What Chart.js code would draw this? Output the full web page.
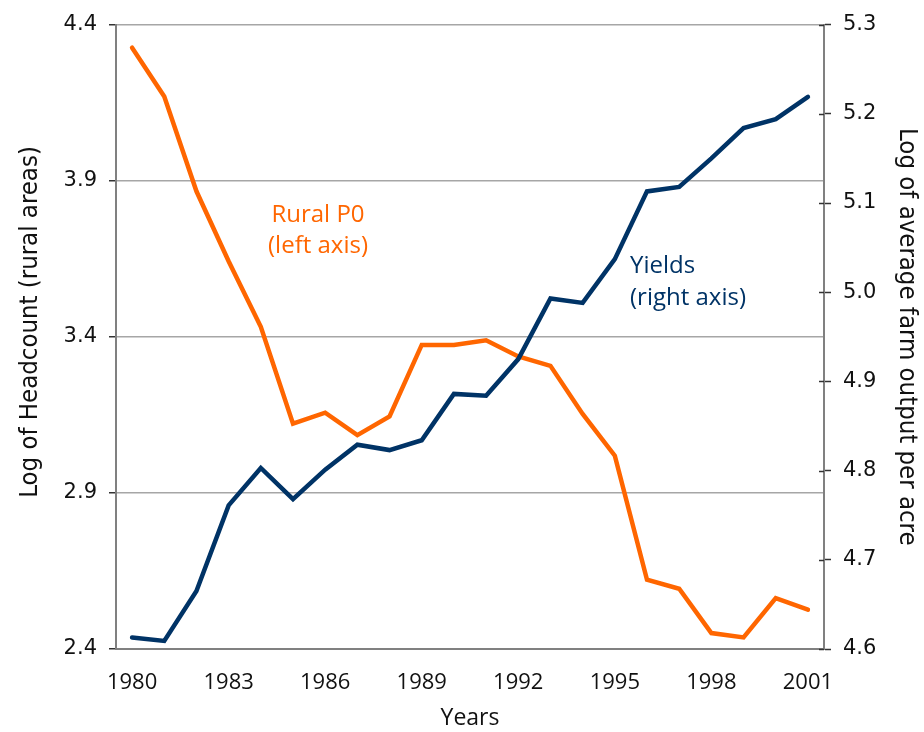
<!DOCTYPE html>
<html>
<head>
<meta charset="utf-8">
<script src="https://cdn.jsdelivr.net/npm/chart.js@4/dist/chart.umd.min.js"></script>
<style>
  html, body { margin: 0; padding: 0; background: #ffffff; }
  #wrap { width: 924px; height: 732px; position: relative; }
</style>
</head>
<body>
<div id="wrap"><canvas id="c" width="924" height="732"></canvas></div>
<script>
// ---- data ----
const years = [1980, 1981, 1982, 1983, 1984, 1985, 1986, 1987, 1988, 1989, 1990,
               1991, 1992, 1993, 1994, 1995, 1996, 1997, 1998, 1999, 2000, 2001];
const ruralP0 = [4.326, 4.170, 3.866, 3.642, 3.432, 3.122, 3.157, 3.085, 3.145, 3.374, 3.374,
                 3.389, 3.337, 3.307, 3.153, 3.019, 2.622, 2.593, 2.451, 2.437, 2.563, 2.526];
const yields = [4.613, 4.609, 4.665, 4.761, 4.803, 4.768, 4.801, 4.829, 4.823, 4.834, 4.886,
                4.884, 4.925, 4.993, 4.988, 5.037, 5.113, 5.118, 5.150, 5.184, 5.194, 5.219];
const xTickLabels = ['1980', '1983', '1986', '1989', '1992', '1995', '1998', '2001'];
const leftTicks = [2.4, 2.9, 3.4, 3.9, 4.4];
const rightTicks = [4.6, 4.7, 4.8, 4.9, 5.0, 5.1, 5.2, 5.3];

const ORANGE = '#FF6600';
const NAVY = '#003366';
const AXIS = '#808080';
const GRID = '#a6a6a6';
const TICK = '#333333';
const COND = "'DejaVu Sans Condensed', 'DejaVu Sans', sans-serif";
const OPEN = "'Open Sans', 'DejaVu Sans', sans-serif";
const xNumFont = { family: OPEN, size: 22 };
const yNumFont = { family: "'DejaVu Sans', sans-serif", size: 21 };
const titleFont = { family: COND, size: 25.5 };
const yearsFont = { family: OPEN, size: 23 };
const noteFont = "24px " + OPEN;

const extras = {
  id: 'extras',
  afterDatasetsDraw(chart) {
    const ctx = chart.ctx;
    const y1 = chart.scales.y1;
    // inner part of the crossing ticks on the right axis
    ctx.save();
    ctx.strokeStyle = TICK;
    ctx.lineWidth = 1.5;
    y1.ticks.forEach((t, i) => {
      const py = Math.round(y1.getPixelForTick(i)) + 0.5;
      ctx.beginPath();
      ctx.moveTo(y1.left - 5, py);
      ctx.lineTo(y1.left, py);
      ctx.stroke();
    });
    // in-chart labels
    ctx.font = noteFont;
    ctx.textBaseline = 'middle';
    ctx.fillStyle = ORANGE;
    ctx.textAlign = 'center';
    ctx.fillText('Rural P0', 318, 215);
    ctx.fillText('(left axis)', 318, 246);
    ctx.fillStyle = NAVY;
    ctx.textAlign = 'left';
    ctx.fillText('Yields', 630, 266);
    ctx.fillText('(right axis)', 630, 298);
    // left axis title
    ctx.fillStyle = '#111111';
    ctx.font = titleFont.size + 'px ' + COND;
    ctx.textAlign = 'center';
    ctx.translate(30, 322);
    ctx.rotate(-Math.PI / 2);
    ctx.fillText('Log of Headcount (rural areas)', 0, 0);
    ctx.restore();
  }
};

new Chart(document.getElementById('c'), {
  type: 'line',
  data: {
    labels: years.map(String),
    datasets: [
      {
        label: 'Rural P0 (left axis)',
        data: ruralP0,
        yAxisID: 'y',
        borderColor: ORANGE,
        backgroundColor: ORANGE,
        borderWidth: 4.5,
        borderCapStyle: 'round',
        pointRadius: 0,
        tension: 0,
        order: 1
      },
      {
        label: 'Yields (right axis)',
        data: yields,
        yAxisID: 'y1',
        borderColor: NAVY,
        backgroundColor: NAVY,
        borderWidth: 4.5,
        borderCapStyle: 'round',
        pointRadius: 0,
        tension: 0,
        order: 0
      }
    ]
  },
  options: {
    responsive: false,
    animation: false,
    layout: { padding: { top: 19, left: 0, right: 0, bottom: 0 } },
    plugins: { legend: { display: false }, tooltip: { enabled: false } },
    scales: {
      x: {
        type: 'category',
        offset: true,
        grid: { display: true, drawOnChartArea: false, drawTicks: false },
        border: { display: true, color: AXIS, width: 2 },
        ticks: {
          autoSkip: false,
          maxRotation: 0,
          padding: 21,
          color: '#111111',
          font: xNumFont,
          callback: function (v, i) {
            const lab = this.getLabelForValue(v);
            return xTickLabels.includes(lab) ? lab : '';
          }
        },
        title: { display: true, text: 'Years', color: '#111111', font: yearsFont, padding: { top: 0, bottom: 0 } },
        afterFit: (s) => { s.height = 83; }
      },
      y: {
        position: 'left',
        min: 2.4,
        max: 4.4,
        afterBuildTicks: (s) => { s.ticks = leftTicks.map(v => ({ value: v })); },
        grid: { color: GRID, lineWidth: 1.5, drawTicks: true, tickLength: 7, tickColor: TICK, tickWidth: 1.5 },
        border: { display: true, color: AXIS, width: 2 },
        ticks: { padding: 12, color: '#111111', font: yNumFont, callback: (v) => Number(v).toFixed(1) },
        title: { display: false },
        afterFit: (s) => { s.width = 116; }
      },
      y1: {
        position: 'right',
        min: 4.6,
        max: 5.3,
        afterBuildTicks: (s) => { s.ticks = rightTicks.map(v => ({ value: v })); },
        grid: { drawOnChartArea: false, drawTicks: true, tickLength: 7, tickColor: TICK, tickWidth: 1.5 },
        border: { display: true, color: AXIS, width: 2 },
        ticks: { padding: 12, color: '#111111', font: yNumFont, callback: (v) => Number(v).toFixed(1) },
        title: { display: true, text: 'Log of average farm output per acre', color: '#111111', font: titleFont, padding: { top: 2, bottom: 0 } },
        afterFit: (s) => { s.width = 100; }
      }
    }
  },
  plugins: [extras]
});
</script>
</body>
</html>
